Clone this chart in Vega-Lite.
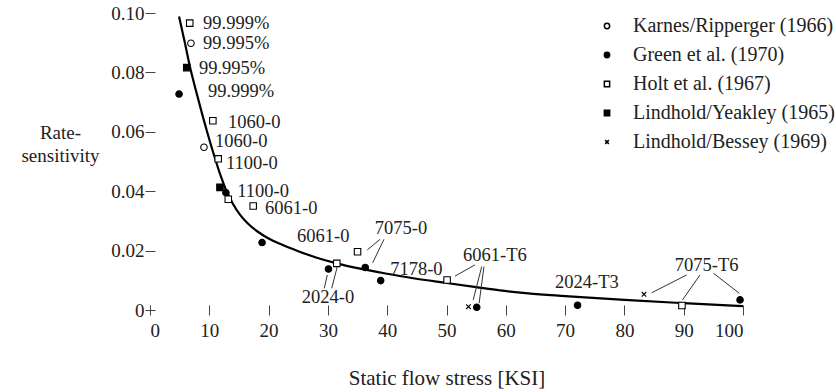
{
  "$schema": "https://vega.github.io/schema/vega-lite/v6.json",
  "width": 593,
  "height": 297,
  "autosize": "none",
  "padding": {"left": 150, "top": 13, "right": 93, "bottom": 82},
  "background": "white",
  "config": {
    "view": {"stroke": null},
    "font": "Liberation Serif",
    "axis": {
      "domain": false,
      "grid": false,
      "tickColor": "#444",
      "tickWidth": 1,
      "tickSize": 10,
      "offset": -5,
      "labelFont": "Liberation Serif",
      "labelFontSize": 19,
      "labelColor": "#222",
      "titleFont": "Liberation Serif",
      "titleFontSize": 19,
      "titleFontWeight": "normal",
      "titleColor": "#222"
    },
    "legend": {
      "labelFont": "Liberation Serif",
      "labelFontSize": 20,
      "labelColor": "#222",
      "labelLimit": 0
    }
  },
  "datasets": {
    "points": [
      {"x": 6.9, "y": 0.0898, "series": "Karnes/Ripperger (1966)"},
      {"x": 9.1, "y": 0.0548, "series": "Karnes/Ripperger (1966)"},
      {"x": 4.9, "y": 0.0727, "series": "Green et al. (1970)"},
      {"x": 12.8, "y": 0.0395, "series": "Green et al. (1970)"},
      {"x": 18.9, "y": 0.0227, "series": "Green et al. (1970)"},
      {"x": 30.1, "y": 0.0138, "series": "Green et al. (1970)"},
      {"x": 36.3, "y": 0.0143, "series": "Green et al. (1970)"},
      {"x": 38.9, "y": 0.0099, "series": "Green et al. (1970)"},
      {"x": 55.1, "y": 0.0009, "series": "Green et al. (1970)"},
      {"x": 72.1, "y": 0.0016, "series": "Green et al. (1970)"},
      {"x": 99.5, "y": 0.0034, "series": "Green et al. (1970)"},
      {"x": 6.7, "y": 0.0966, "series": "Holt et al. (1967)"},
      {"x": 10.6, "y": 0.0637, "series": "Holt et al. (1967)"},
      {"x": 11.5, "y": 0.0509, "series": "Holt et al. (1967)"},
      {"x": 13.2, "y": 0.0373, "series": "Holt et al. (1967)"},
      {"x": 17.4, "y": 0.035, "series": "Holt et al. (1967)"},
      {"x": 31.5, "y": 0.0157, "series": "Holt et al. (1967)"},
      {"x": 35.0, "y": 0.0196, "series": "Holt et al. (1967)"},
      {"x": 50.1, "y": 0.0101, "series": "Holt et al. (1967)"},
      {"x": 89.7, "y": 0.0015, "series": "Holt et al. (1967)"},
      {"x": 6.2, "y": 0.0816, "series": "Lindhold/Yeakley (1965)"},
      {"x": 11.8, "y": 0.0413, "series": "Lindhold/Yeakley (1965)"},
      {"x": 53.7, "y": 0.0011, "series": "Lindhold/Bessey (1969)"},
      {"x": 83.3, "y": 0.0053, "series": "Lindhold/Bessey (1969)"}
    ],
    "curve": [
      {"x": 4.9, "y": 0.0988},
      {"x": 5.9, "y": 0.0898},
      {"x": 6.7, "y": 0.0822},
      {"x": 7.9, "y": 0.0727},
      {"x": 8.9, "y": 0.0652},
      {"x": 9.7, "y": 0.0595},
      {"x": 10.8, "y": 0.0521},
      {"x": 12.0, "y": 0.0447},
      {"x": 12.8, "y": 0.0405},
      {"x": 14.0, "y": 0.0357},
      {"x": 15.2, "y": 0.032},
      {"x": 16.5, "y": 0.0291},
      {"x": 18.0, "y": 0.0266},
      {"x": 20.0, "y": 0.0241},
      {"x": 22.0, "y": 0.0222},
      {"x": 25.0, "y": 0.0198},
      {"x": 28.0, "y": 0.0177},
      {"x": 31.5, "y": 0.0157},
      {"x": 35.0, "y": 0.0141},
      {"x": 40.0, "y": 0.0122},
      {"x": 44.4, "y": 0.0107},
      {"x": 50.0, "y": 0.0091},
      {"x": 55.0, "y": 0.0077},
      {"x": 59.0, "y": 0.0066},
      {"x": 63.8, "y": 0.0056},
      {"x": 70.0, "y": 0.0047},
      {"x": 76.0, "y": 0.0039},
      {"x": 80.0, "y": 0.0034},
      {"x": 90.0, "y": 0.0023},
      {"x": 100.0, "y": 0.0013}
    ],
    "labels": [
      {"x": 8.94, "y": 0.0966, "text": "99.999%"},
      {"x": 8.94, "y": 0.0899, "text": "99.995%"},
      {"x": 8.26, "y": 0.0815, "text": "99.995%"},
      {"x": 9.78, "y": 0.0736, "text": "99.999%"},
      {"x": 13.15, "y": 0.0634, "text": "1060-0"},
      {"x": 10.96, "y": 0.0569, "text": "1060-0"},
      {"x": 12.8, "y": 0.0495, "text": "1100-0"},
      {"x": 14.7, "y": 0.0401, "text": "1100-0"},
      {"x": 19.4, "y": 0.0344, "text": "6061-0"},
      {"x": 24.8, "y": 0.025, "text": "6061-0"},
      {"x": 37.9, "y": 0.0276, "text": "7075-0"},
      {"x": 25.6, "y": 0.0044, "text": "2024-0"},
      {"x": 40.5, "y": 0.0138, "text": "7178-0"},
      {"x": 52.8, "y": 0.0185, "text": "6061-T6"},
      {"x": 68.3, "y": 0.0094, "text": "2024-T3"},
      {"x": 88.5, "y": 0.0152, "text": "7075-T6"}
    ],
    "leaders": [
      {"x": 29.39, "y": 0.0073, "x2": 29.9, "y2": 0.0118},
      {"x": 30.64, "y": 0.0073, "x2": 31.58, "y2": 0.0146},
      {"x": 38.79, "y": 0.0238, "x2": 36.64, "y2": 0.0202},
      {"x": 39.46, "y": 0.0238, "x2": 37.55, "y2": 0.0159},
      {"x": 51.43, "y": 0.0114, "x2": 54.8, "y2": 0.0152},
      {"x": 55.94, "y": 0.0146, "x2": 54.5, "y2": 0.0034},
      {"x": 56.32, "y": 0.0146, "x2": 55.5, "y2": 0.0023},
      {"x": 90.5, "y": 0.0118, "x2": 84.6, "y2": 0.0058},
      {"x": 92.75, "y": 0.0118, "x2": 89.8, "y2": 0.0034},
      {"x": 95.0, "y": 0.0124, "x2": 99.4, "y2": 0.0056}
    ]
  },
  "layer": [
    {
      "mark": {"type": "rule", "stroke": "#444", "strokeWidth": 1.3},
      "encoding": {"x": {"datum": 0, "type": "quantitative"}}
    },
    {
      "mark": {"type": "rule", "stroke": "#444", "strokeWidth": 1.3},
      "encoding": {"y": {"datum": 0, "type": "quantitative"}}
    },
    {
      "data": {"name": "curve"},
      "mark": {"type": "line", "stroke": "black", "strokeWidth": 2.2, "interpolate": "monotone"},
      "encoding": {
        "x": {"field": "x", "type": "quantitative"},
        "y": {"field": "y", "type": "quantitative"}
      }
    },
    {
      "data": {"name": "leaders"},
      "mark": {"type": "rule", "stroke": "#333", "strokeWidth": 1},
      "encoding": {
        "x": {"field": "x", "type": "quantitative"},
        "y": {"field": "y", "type": "quantitative"},
        "x2": {"field": "x2"},
        "y2": {"field": "y2"}
      }
    },
    {
      "data": {"name": "points"},
      "mark": {"type": "point", "filled": true, "stroke": "black", "strokeWidth": 1.1, "size": 42, "opacity": 1},
      "encoding": {
        "x": {
          "field": "x", "type": "quantitative",
          "scale": {"domain": [0, 100], "nice": false, "zero": true},
          "axis": {"values": [0, 10, 20, 30, 40, 50, 60, 70, 80, 90, 100], "labelPadding": 6, "titleY": 73, "titleBaseline": "middle", "titleFontSize": 21},
          "title": "Static flow stress [KSI]"
        },
        "y": {
          "field": "y", "type": "quantitative",
          "scale": {"domain": [0, 0.1], "nice": false},
          "axis": {
            "values": [0, 0.02, 0.04, 0.06, 0.08, 0.1],
            "labelExpr": "datum.value == 0 ? '0' : format(datum.value, '.2f')",
            "labelPadding": 1,
            "titleAngle": 0,
            "titleAlign": "center",
            "titleBaseline": "middle",
            "titleX": -95,
            "titleY": 119,
            "titleLineHeight": 23
          },
          "title": ["Rate-", "sensitivity"]
        },
        "shape": {
          "field": "series", "type": "nominal",
          "scale": {
            "domain": ["Karnes/Ripperger (1966)", "Green et al. (1970)", "Holt et al. (1967)", "Lindhold/Yeakley (1965)", "Lindhold/Bessey (1969)"],
            "range": ["circle", "circle", "square", "square", "M-0.7,-0.7L0.7,0.7M-0.7,0.7L0.7,-0.7"]
          },
          "legend": {
            "orient": "none", "legendX": 447, "legendY": 3, "title": null,
            "symbolSize": 28, "rowPadding": 9, "labelOffset": 16,
            "encode": {"symbols": {"update": {"stroke": {"value": "black"}, "strokeWidth": {"value": 1}}}}
          }
        },
        "fill": {
          "field": "series", "type": "nominal",
          "scale": {
            "domain": ["Karnes/Ripperger (1966)", "Green et al. (1970)", "Holt et al. (1967)", "Lindhold/Yeakley (1965)", "Lindhold/Bessey (1969)"],
            "range": ["white", "black", "white", "black", "black"]
          },
          "legend": {
            "orient": "none", "legendX": 447, "legendY": 3, "title": null,
            "symbolSize": 28, "rowPadding": 9, "labelOffset": 16,
            "encode": {"symbols": {"update": {"stroke": {"value": "black"}, "strokeWidth": {"value": 1}}}}
          }
        }
      }
    },
    {
      "data": {"name": "labels"},
      "mark": {"type": "text", "align": "left", "baseline": "middle", "font": "Liberation Serif", "fontSize": 18.5, "fill": "#222"},
      "encoding": {
        "x": {"field": "x", "type": "quantitative"},
        "y": {"field": "y", "type": "quantitative"},
        "text": {"field": "text"}
      }
    }
  ]
}
